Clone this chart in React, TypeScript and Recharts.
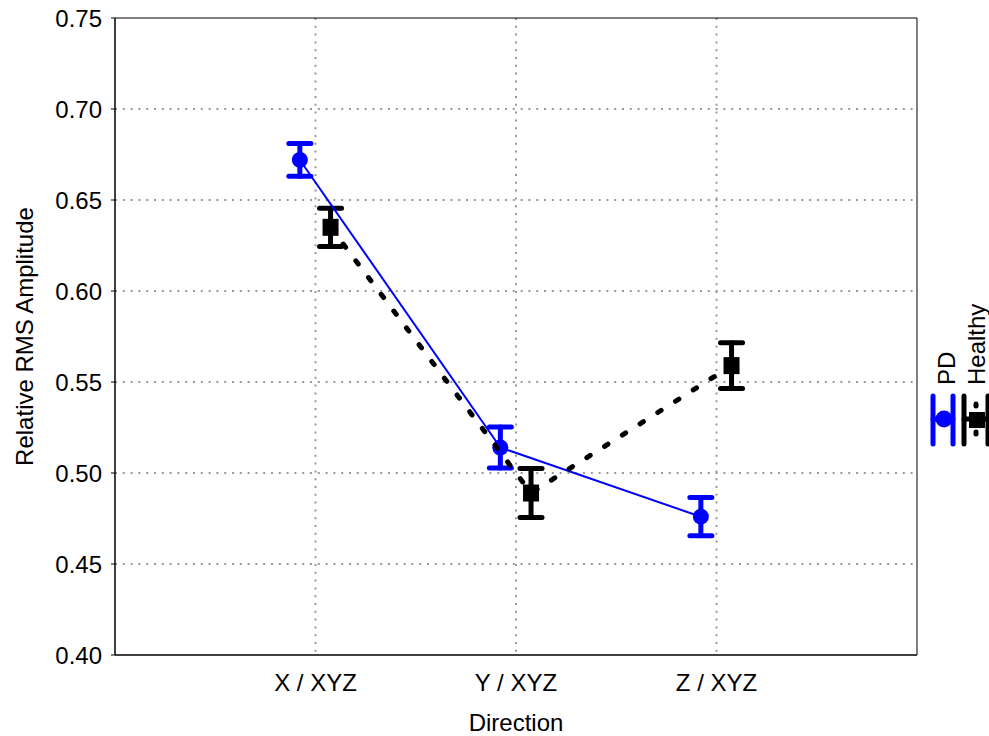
import React from 'react';
import { ComposedChart, Scatter, XAxis, YAxis, CartesianGrid, ErrorBar, ReferenceArea } from 'recharts';

const categories = ['X / XYZ', 'Y / XYZ', 'Z / XYZ'];
const categoryPos = [1, 2, 3];
const pdMean = [0.672, 0.514, 0.476];
const pdErr = [0.009, 0.0113, 0.0105];
const healthyMean = [0.635, 0.489, 0.559];
const healthyErr = [0.0105, 0.0135, 0.0126];
const yTicks = [0.4, 0.45, 0.5, 0.55, 0.6, 0.65, 0.7, 0.75];
const pdOffset = -0.078;
const healthyOffset = 0.075;

const pdData = categoryPos.map((p, i) => ({ x: p + pdOffset, y: pdMean[i], err: pdErr[i] }));
const healthyData = categoryPos.map((p, i) => ({ x: p + healthyOffset, y: healthyMean[i], err: healthyErr[i] }));

const FONT = '"Liberation Sans", Arial, sans-serif';

const Circle = (props: any) => {
  const { cx, cy } = props;
  return <circle cx={cx} cy={cy} r={8} fill="#0000ff" />;
};
const Square = (props: any) => {
  const { cx, cy } = props;
  return <rect x={cx - 8} y={cy - 8.5} width={16} height={17} fill="#000" />;
};

export default function App() {
  return (
    <div style={{ position: 'absolute', left: 0, top: 0, width: 989, height: 736, background: '#fff', fontFamily: FONT }}>
      <ComposedChart width={989} height={736} margin={{ top: 18, right: 72, bottom: 0, left: 0 }}>
        <CartesianGrid stroke="#999" strokeDasharray="2 5.8" strokeWidth={2} verticalValues={categoryPos} horizontalValues={[0.45, 0.5, 0.55, 0.6, 0.65, 0.7]} />
        <XAxis
          type="number"
          dataKey="x"
          domain={[0, 4]}
          ticks={categoryPos}
          tickFormatter={(v: number) => categories[categoryPos.indexOf(v)] ?? ''}
          tickSize={0}
          tickMargin={19}
          height={81}
          stroke="#000"
          tick={{ fill: '#000', fontSize: 24, fontFamily: FONT }}
          allowDataOverflow
          label={{ value: 'Direction', position: 'insideBottom', offset: 5, fill: '#000', fontSize: 24, fontFamily: FONT }}
        />
        <YAxis
          type="number"
          domain={[0.4, 0.75]}
          ticks={yTicks}
          tickFormatter={(v: number) => v.toFixed(2)}
          tickSize={4}
          tickMargin={9}
          width={115}
          stroke="#000"
          allowDataOverflow
          tick={{ fill: '#000', fontSize: 24, fontFamily: FONT }}
          label={{ value: 'Relative RMS Amplitude', angle: -90, position: 'insideLeft', offset: 24, fill: '#000', fontSize: 24, fontFamily: FONT, style: { textAnchor: 'middle' } }}
        />
        <ReferenceArea x1={0} x2={4} y1={0.4} y2={0.75} fill="none" stroke="#000" strokeWidth={1} ifOverflow="visible" />
        <Scatter
          data={pdData}
          dataKey="y"
          isAnimationActive={false}
          line={{ stroke: '#0000ff', strokeWidth: 2 }}
          lineType="joint"
          shape={<Circle />}
        >
          <ErrorBar dataKey="err" direction="y" width={11} stroke="#0000ff" strokeWidth={5} strokeLinecap="round" />
        </Scatter>
        <Scatter
          data={healthyData}
          dataKey="y"
          isAnimationActive={false}
          line={{ stroke: '#000', strokeWidth: 5, strokeDasharray: '4 17', strokeLinecap: 'round' }}
          lineType="joint"
          shape={<Square />}
        >
          <ErrorBar dataKey="err" direction="y" width={11} stroke="#000" strokeWidth={5} strokeLinecap="round" />
        </Scatter>
      </ComposedChart>
      <svg width={70} height={170} style={{ position: 'absolute', left: 919, top: 290 }}>
        <text transform="translate(36,95) rotate(-90)" fontSize={24} fill="#000" fontFamily={FONT}>PD</text>
        <text transform="translate(66,95) rotate(-90)" fontSize={24} fill="#000" fontFamily={FONT}>Healthy</text>
        <g stroke="#0000ff" strokeWidth={5} strokeLinecap="round">
          <line x1={14} y1={106} x2={14} y2={154} />
          <line x1={34} y1={106} x2={34} y2={154} />
          <line x1={14} y1={129} x2={34} y2={129} />
        </g>
        <circle cx={25} cy={129} r={8.5} fill="#0000ff" />
        <g stroke="#000" strokeWidth={5} strokeLinecap="round">
          <line x1={45} y1={106} x2={45} y2={154} />
          <line x1={69} y1={106} x2={69} y2={154} />
          <line x1={45} y1={129} x2={69} y2={129} />
        </g>
        <g stroke="#000" strokeWidth={5} strokeLinecap="round">
          <line x1={57} y1={114} x2={57} y2={116} />
          <line x1={57} y1={142} x2={57} y2={144} />
        </g>
        <rect x={50} y={122} width={16} height={16} fill="#000" />
      </svg>
    </div>
  );
}
